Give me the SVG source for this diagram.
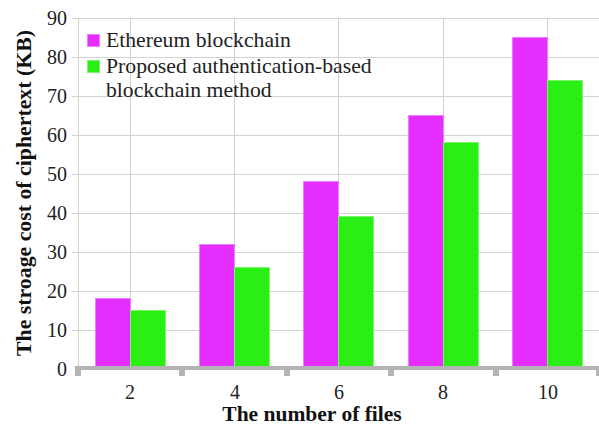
<svg xmlns="http://www.w3.org/2000/svg" width="599" height="428" viewBox="0 0 599 428">
<style>
.grid{stroke:#d2d2d2;stroke-width:1;fill:none}
text{font-family:"Liberation Serif","Times New Roman",serif}
.tick{font-size:20px;fill:#222}
.title{font-weight:bold;fill:#111}
.leg{font-size:21.7px;fill:#222}
.eth{fill:#E52DFF;stroke:#EE7CFF;stroke-width:1}
.pro{fill:#2BEE14;stroke:#7CF56A;stroke-width:1}
.axis{fill:#b4b4b4}
</style>
<rect width="599" height="428" fill="#fff"/>
<g id="gridlines">
<line class="grid" x1="72" y1="18.5" x2="599" y2="18.5"/>
<line class="grid" x1="72" y1="57.5" x2="599" y2="57.5"/>
<line class="grid" x1="72" y1="96.5" x2="599" y2="96.5"/>
<line class="grid" x1="72" y1="135.5" x2="599" y2="135.5"/>
<line class="grid" x1="72" y1="174.5" x2="599" y2="174.5"/>
<line class="grid" x1="72" y1="213.5" x2="599" y2="213.5"/>
<line class="grid" x1="72" y1="252.5" x2="599" y2="252.5"/>
<line class="grid" x1="72" y1="291.5" x2="599" y2="291.5"/>
<line class="grid" x1="72" y1="330.5" x2="599" y2="330.5"/>
<line class="grid" x1="78.5" y1="18" x2="78.5" y2="366"/>
<line class="grid" x1="130.5" y1="18" x2="130.5" y2="366"/>
<line class="grid" x1="234.5" y1="18" x2="234.5" y2="366"/>
<line class="grid" x1="338.5" y1="18" x2="338.5" y2="366"/>
<line class="grid" x1="443.5" y1="18" x2="443.5" y2="366"/>
<line class="grid" x1="547.5" y1="18" x2="547.5" y2="366"/>
</g>
<g id="y-ticks" class="tick" text-anchor="end">
<text x="67" y="25">90</text>
<text x="67" y="64">80</text>
<text x="67" y="103">70</text>
<text x="67" y="142">60</text>
<text x="67" y="181">50</text>
<text x="67" y="220">40</text>
<text x="67" y="259">30</text>
<text x="67" y="298">20</text>
<text x="67" y="337">10</text>
<text x="67" y="376">0</text>
</g>
<g id="bars">
<rect class="eth" x="95.5" y="298.5" width="35" height="70.5"/>
<rect class="pro" x="130.5" y="310.5" width="35" height="58.5"/>
<rect class="eth" x="199.5" y="244.5" width="35" height="124.5"/>
<rect class="pro" x="234.5" y="267.5" width="35" height="101.5"/>
<rect class="eth" x="303.5" y="181.5" width="35" height="187.5"/>
<rect class="pro" x="338.5" y="216.5" width="35" height="152.5"/>
<rect class="eth" x="408.5" y="115.5" width="35" height="253.5"/>
<rect class="pro" x="443.5" y="142.5" width="35" height="226.5"/>
<rect class="eth" x="512.5" y="37.5" width="35" height="331.5"/>
<rect class="pro" x="547.5" y="80.5" width="35" height="288.5"/>
</g>
<g id="x-axis">
<rect class="axis" x="75" y="366" width="524" height="4"/>
<rect class="axis" x="75" y="369" width="6" height="7"/>
<rect class="axis" x="179" y="369" width="6" height="7"/>
<rect class="axis" x="284" y="369" width="6" height="7"/>
<rect class="axis" x="388" y="369" width="6" height="7"/>
<rect class="axis" x="493" y="369" width="6" height="7"/>
<rect class="axis" x="596" y="369" width="3" height="7"/>
</g>
<g id="x-ticks" class="tick" text-anchor="middle">
<text x="130" y="399">2</text>
<text x="235" y="399">4</text>
<text x="339" y="399">6</text>
<text x="443" y="399">8</text>
<text x="548" y="399">10</text>
</g>
<g id="legend">
<rect class="eth" x="87.5" y="34.5" width="12" height="12"/>
<text class="leg" x="106" y="47">Ethereum blockchain</text>
<rect class="pro" x="87.5" y="60.5" width="12" height="12"/>
<text class="leg" x="106" y="73">Proposed authentication-based</text>
<text class="leg" x="106" y="97">blockchain method</text>
</g>
<g id="titles" class="title" text-anchor="middle">
<text x="312" y="421" font-size="21.5">The number of files</text>
<text transform="translate(31 193) rotate(-90)" font-size="21.8">The stroage cost of ciphertext (KB)</text>
</g>
</svg>
